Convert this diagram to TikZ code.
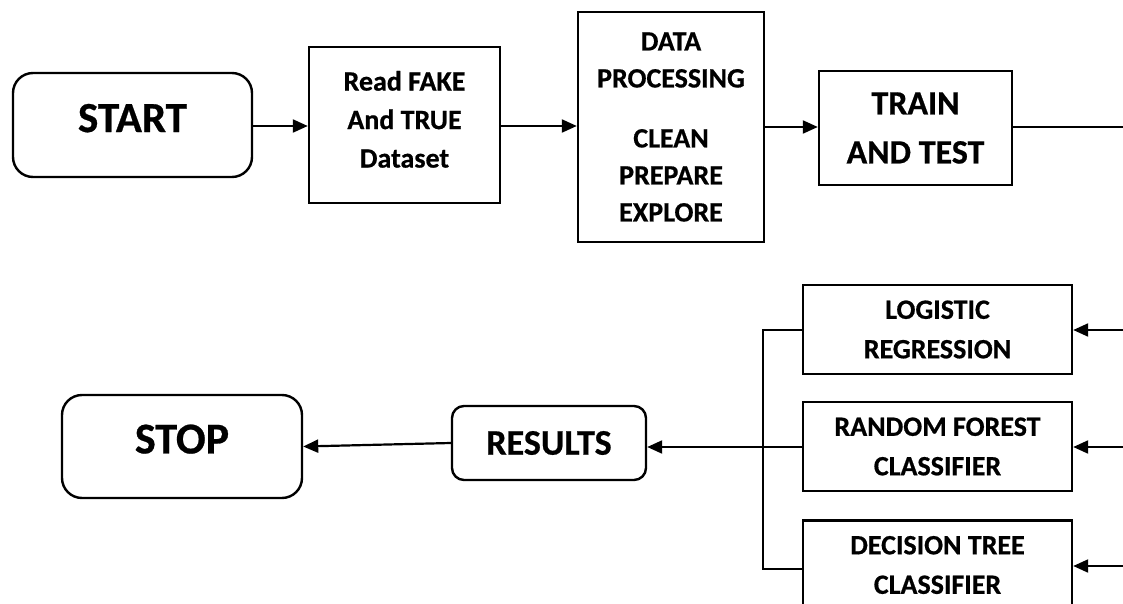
\documentclass[tikz,border=0pt]{standalone}
\usepackage{fontspec}
\setmainfont{Carlito}[BoldFeatures={FakeBold=0.6}]
\usetikzlibrary{arrows.meta}

\tikzset{
  box/.style={draw, line width=2.4pt, align=center, inner sep=0pt, font=\bfseries},
  termbox/.style={box, rounded corners=20pt},
  algobox/.style={box, minimum width=269pt, minimum height=89pt,
    font=\bfseries\fontsize{28}{39.5}\selectfont},
}

\begin{document}
\begin{tikzpicture}[x=1pt, y=-1pt, line width=2.2pt, >={Triangle[length=15pt,width=13pt]}]
    \useasboundingbox (0,0) rectangle (1123,604);
    \clip (0,0) rectangle (1123,604);

    % 1. upper row: start, read, processing, train/test
    \node[termbox, minimum width=239pt, minimum height=104pt, text depth=14pt,
          font=\bfseries\fontsize{43}{50}\selectfont] (start) at (132.5,125) {START};
    \node[box, minimum width=191pt, minimum height=156pt,
          font=\bfseries\fontsize{28}{38.5}\selectfont] (read) at (404.5,125)
          {Read FAKE\\And TRUE\\Dataset\\[-27pt]};
    \node[box, minimum width=186pt, minimum height=230pt,
          font=\bfseries\fontsize{28}{37}\selectfont] (data) at (671,127)
          {DATA\\PROCESSING\\[23pt]CLEAN\\PREPARE\\EXPLORE};
    \node[box, minimum width=193pt, minimum height=114pt,
          font=\bfseries\fontsize{34}{49}\selectfont] (train) at (915.5,128)
          {TRAIN\\AND TEST};

    % 2. the three classifiers (the last one runs off the bottom edge)
    \node[algobox] (logreg) at (937.5,329.5) {LOGISTIC\\REGRESSION};
    \node[algobox] (rforest) at (937.5,446.5) {RANDOM FOREST\\CLASSIFIER};
    \node[algobox] (dtree) at (937.5,565) {DECISION TREE\\CLASSIFIER};

    % 3. lower row: results and stop
    \node[box, rounded corners=12pt, minimum width=194pt, minimum height=74pt,
          font=\bfseries\fontsize{36}{44}\selectfont] (results) at (549,443) {RESULTS};
    \node[termbox, minimum width=240pt, minimum height=103pt, text depth=15pt,
          font=\bfseries\fontsize{44}{50}\selectfont] (stop) at (182,446.5) {STOP};

    % 4. loose ends at the right edge of the page
    \coordinate (trainout) at (1123,127);
    \coordinate (inlog) at (1123,330);
    \coordinate (inrf) at (1123,447);
    \coordinate (indt) at (1123,566);
    \coordinate (joinx) at (763,0);

    % 5. connectors
    \draw[->] (start.east |- 0,126) -- (read.west |- 0,126);
    \draw[->] (read.east |- 0,126) -- (data.west |- 0,126);
    \draw[->] (data.east |- 0,127) -- (train.west |- 0,127);
    \draw (train.east |- trainout) -- (trainout);

    \draw[->] (inlog) -- (logreg.east |- inlog);
    \draw[->] (inrf) -- (rforest.east |- inrf);
    \draw[->] (indt) -- (dtree.east |- indt);

    \draw (logreg.west |- inlog) -- (joinx |- inlog) -- (joinx |- 0,569) -- (dtree.west |- 0,569);
    \draw[->] (rforest.west |- inrf) -- (results.east |- inrf);
    \draw[->] (results.west) -- (stop.east);

\end{tikzpicture}
\end{document}
